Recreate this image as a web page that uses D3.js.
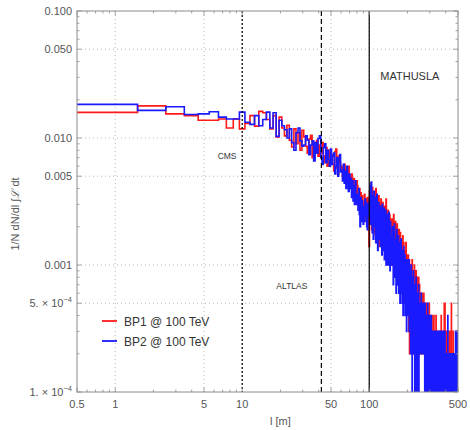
<!DOCTYPE html>
<html>
<head>
<meta charset="utf-8">
<script src="https://cdn.jsdelivr.net/npm/d3@7"></script>
<style>
body { margin: 0; background: #fff; }
text { font-family: "Liberation Sans", Arial, sans-serif; }
</style>
</head>
<body>
<div id="chart"></div>
<script>
// histogram bins: centre l = 1..500 m, width 1 m
// bin contents in units of 1e-4 (1/N dN/dl)
var binStart = 1;
var binWidth = 1;

var bp1Per1e4 = [
  159,179,155,150,138,138,141,120,141,118,
  130,150,124,162,158,140,118,150,102,146,
  120,104,126,96,85,118,90,110,80,115,
  102,86,76,98,105,70,92,82,96,72,
  88,76,92,64,72,84,60,80,70,66,
  74,62,55,78,82,58,52,72,64,56,
  60,50,54,62,46,58,44,56,60,42,
  50,40,52,38,36,48,36,45,34,46,
  42,32,30,40,26,37,24,35,30,25,
  31,36,24,33,22,30,34,21,28,14,
  38,22,44,27,19,41,25,34,18,30, 36,17,40,23,31,15,28,20,35,14,
  30,19,16,33,21,27,13,31,18,26, 15,29,12,25,17,33,14,24,11,21,
  27,13,22,10,25,16,12,23,10,19,
  17,23,10,20,12,25,9,19,11,15, 22,8,14,18,10,21,7,13,17,9,
  15,19,6,12,9,18,13,7,11,16, 6,14,8,17,6,11,15,5,10,13,
  8,5,12,7,15,9,5,10,12,6,
  10,5,12,6,3,8,11,2,7,5, 10,4,2,9,5,7,3,11,4,6,
  8,2,7,4,6,3,10,4,1,6, 7,3,5,9,2,6,3,5,8,2,
  5,6,1,4,8,2,5,3,7,2,
  4,5,3,6,4,2,5,3,4,6, 3,5,2,4,3,5,4,2,6,3,
  4,3,5,2,4,1,3,5,2,4, 3,2,4,0,3,5,2,3,1,4,
  2,3,0,4,2,3,5,1,3,2,
  2,3,1,4,2,0,3,2,1,3, 2,4,1,2,0,3,2,1,3,2,
  0,2,4,1,2,3,0,2,1,3, 2,1,0,3,2,4,1,2,0,2,
  3,1,2,0,2,3,1,2,1,0, 2,3,1,2,0,1,3,2,1,2,
  0,2,1,3,2,0,1,2,4,1, 2,0,1,3,2,1,0,2,1,3,
  1,2,0,2,1,3,2,0,1,5, 2,1,0,2,5,1,2,0,1,2,
  1,2,0,1,3,1,0,2,1,0, 2,1,1,0,3,1,2,0,1,2,
  0,1,2,1,0,2,1,0,1,3, 1,0,2,1,0,1,2,0,1,1,
  0,2,1,5,1,0,2,1,0,1, 2,0,1,1,0,2,1,0,3,1,
  0,1,2,0,1,1,0,2,1,0, 1,2,0,1,0,2,1,1,0,2,
  1,0,1,2,0,1,3,1,0,1, 2,0,1,1,0,2,1,0,1,2
];

var bp2Per1e4 = [
  184,165,176,153,155,161,146,141,141,160,
  133,128,150,125,140,160,120,158,103,138,
  125,116,100,118,92,80,110,120,95,86,
  88,104,96,74,88,95,66,92,76,99,
  104,70,62,84,90,64,80,68,60,82,
  62,72,76,52,60,70,50,68,74,54,
  56,46,62,44,55,40,60,50,38,52,
  40,48,34,46,32,42,30,46,34,30,
  36,27,40,25,20,34,22,32,28,21,
  29,22,33,25,31,20,19,30,24,31,
  33,42,21,45,26,18,35,16,38,24, 20,34,15,30,36,19,13,28,31,16,
  25,29,14,27,18,12,30,15,26,13, 28,11,23,15,27,10,22,14,25,12,
  10,21,26,11,18,9,22,13,10,17,
  16,10,20,13,7,17,11,21,8,14, 10,16,6,12,19,8,14,7,11,17,
  6,13,9,15,5,12,8,16,6,10, 13,5,9,12,4,10,14,7,9,5,
  12,4,8,11,6,9,3,8,11,5,
  7,10,4,8,5,11,3,7,4,9, 6,2,7,10,3,6,4,0,8,3,
  6,4,9,2,5,7,3,6,1,5, 4,7,2,8,5,0,4,6,2,5,
  4,0,6,2,7,1,4,5,2,4,
  5,3,4,2,5,3,6,4,2,3, 4,5,3,2,4,3,2,5,3,4,
  2,4,3,1,5,3,0,4,2,3, 4,1,3,2,0,4,3,2,5,1,
  3,2,4,0,3,2,1,4,2,3,
  3,2,0,2,3,1,2,4,1,2, 3,0,2,1,3,2,1,0,2,3,
  1,2,3,0,2,1,2,3,1,0, 2,3,1,2,1,0,3,2,1,2,
  0,2,1,3,2,1,0,2,3,1, 2,1,0,2,1,3,2,1,0,2,
  1,2,3,1,0,2,1,2,0,1, 3,2,1,0,2,1,2,0,3,1,
  2,1,0,2,1,2,3,0,1,2, 1,0,2,1,3,1,0,2,1,2,
  2,1,0,2,1,1,0,2,1,0, 1,2,0,1,2,4,1,0,1,2,
  0,1,1,2,0,1,2,1,0,1, 2,0,1,1,2,0,1,2,0,1,
  1,0,2,1,0,1,2,1,0,2, 1,1,0,2,1,0,1,2,0,1,
  1,2,0,1,1,0,2,1,1,0, 2,1,0,1,2,1,0,1,3,1,
  0,1,2,1,0,1,1,2,0,3, 1,0,2,1,3,0,1,2,3,3
];

var seriesNames = ["BP1 @ 100 TeV", "BP2 @ 100 TeV"];
var seriesColors = ["#ff1a1a", "#1a1aff"];

var xTicks = [0.5, 1, 5, 10, 50, 100, 500];
var xTickLabels = ["0.5", "1", "5", "10", "50", "100", "500"];
var yTicks = [1e-4, 5e-4, 0.001, 0.005, 0.01, 0.05, 0.1];
var yTickLabels = ["1. \u00d7 10|-4", "5. \u00d7 10|-4", "0.001", "0.005", "0.010", "0.050", "0.100"];

var detectorNames = ["CMS", "ALTLAS", "MATHUSLA"];
var detectorL = [10, 42, 100];

var W = 470, H = 430;
var margin = {left: 77, right: 12, top: 11, bottom: 38};
var pw = W - margin.left - margin.right;
var ph = H - margin.top - margin.bottom;

var axisColor = "#8a8a8a";
var labelColor = "#555";
var gridColor = "#b8b8b8";

var svg = d3.select("#chart").append("svg")
  .attr("width", W)
  .attr("height", H);

var x = d3.scaleLog().domain([0.5, 500]).range([0, pw]);
var y = d3.scaleLog().domain([1e-4, 0.1]).range([ph, 0]);

var g = svg.append("g")
  .attr("transform", "translate(" + margin.left + "," + margin.top + ")");

svg.append("defs").append("clipPath").attr("id", "plotclip")
  .append("rect").attr("x", 0).attr("y", 0).attr("width", pw).attr("height", ph);

// grid lines at the major ticks
g.append("g").selectAll("line")
  .data(xTicks.slice(1, -1))
  .enter().append("line")
  .attr("x1", function(d){ return x(d); })
  .attr("x2", function(d){ return x(d); })
  .attr("y1", 0).attr("y2", ph)
  .attr("stroke", gridColor)
  .attr("stroke-dasharray", "1,3");

g.append("g").selectAll("line")
  .data(yTicks.slice(1, -1))
  .enter().append("line")
  .attr("x1", 0).attr("x2", pw)
  .attr("y1", function(d){ return y(d); })
  .attr("y2", function(d){ return y(d); })
  .attr("stroke", gridColor)
  .attr("stroke-dasharray", "1,3");

// minor ticks: 2..9 times each decade
function minorTicks(lo, hi, major){
  var out = [];
  for (var e = -5; e <= 3; e++) {
    for (var m = 1; m < 10; m++) {
      var v = m * Math.pow(10, e);
      if (v > lo * 1.0001 && v < hi * 0.9999 &&
          !major.some(function(t){ return Math.abs(t - v) / t < 1e-6; })) out.push(v);
    }
  }
  return out;
}
var xMinor = minorTicks(0.5, 500, xTicks);
var yMinor = minorTicks(1e-4, 0.1, yTicks);

// histogram steps
function stepPoints(vals){
  var pts = [];
  for (var i = 0; i < vals.length; i++) {
    var c = binStart + i * binWidth;
    var lo = Math.max(c - binWidth / 2, 0.5);
    var hi = Math.min(c + binWidth / 2, 500);
    var v = vals[i] > 0 ? vals[i] * 1e-4 : 1e-6;
    pts.push([lo, v]);
    pts.push([hi, v]);
  }
  return pts;
}

var line = d3.line()
  .x(function(d){ return x(d[0]); })
  .y(function(d){ return y(d[1]); });

var plot = g.append("g").attr("clip-path", "url(#plotclip)");

[bp1Per1e4, bp2Per1e4].forEach(function(vals, k){
  plot.append("path")
    .attr("d", line(stepPoints(vals)))
    .attr("fill", "none")
    .attr("stroke", seriesColors[k])
    .attr("stroke-width", 1.6)
    .attr("stroke-linejoin", "miter");
});

// detector distances
var detDash = ["2,2", "5,3", null];
detectorL.forEach(function(l, k){
  g.append("line")
    .attr("x1", x(l)).attr("x2", x(l))
    .attr("y1", 0).attr("y2", ph)
    .attr("stroke", "#000")
    .attr("stroke-width", 1.2)
    .attr("stroke-dasharray", detDash[k]);
});

var detLabelAt = [[7.6, 0.0071], [24.6, 6.7e-4], [209, 0.03]];
detectorNames.forEach(function(name, k){
  g.append("text")
    .attr("x", x(detLabelAt[k][0]))
    .attr("y", y(detLabelAt[k][1]))
    .attr("text-anchor", "middle")
    .attr("dominant-baseline", "middle")
    .attr("font-size", k == 2 ? "11px" : "8.5px")
    .attr("fill", "#333")
    .text(name);
});

// frame
g.append("rect")
  .attr("x", 0).attr("y", 0)
  .attr("width", pw).attr("height", ph)
  .attr("fill", "none")
  .attr("stroke", axisColor)
  .attr("stroke-width", 1);

function drawTicks(vals, len, side){
  var sel = g.append("g").selectAll("line").data(vals).enter().append("line")
    .attr("stroke", axisColor).attr("stroke-width", 0.8);
  if (side == "bottom" || side == "top") {
    var y0 = side == "bottom" ? ph : 0;
    var dir = side == "bottom" ? -1 : 1;
    sel.attr("x1", function(d){ return x(d); })
       .attr("x2", function(d){ return x(d); })
       .attr("y1", y0).attr("y2", y0 + dir * len);
  } else {
    var x0 = side == "left" ? 0 : pw;
    var dir2 = side == "left" ? 1 : -1;
    sel.attr("y1", function(d){ return y(d); })
       .attr("y2", function(d){ return y(d); })
       .attr("x1", x0).attr("x2", x0 + dir2 * len);
  }
}
["bottom", "top"].forEach(function(s){
  drawTicks(xTicks, 4.5, s);
  drawTicks(xMinor, 2.5, s);
});
["left", "right"].forEach(function(s){
  drawTicks(yTicks, 4.5, s);
  drawTicks(yMinor, 2.5, s);
});

// tick labels
g.append("g").selectAll("text")
  .data(xTicks)
  .enter().append("text")
  .attr("x", function(d){ return x(d); })
  .attr("y", ph + 16)
  .attr("text-anchor", "middle")
  .attr("font-size", "11px")
  .attr("fill", labelColor)
  .text(function(d, i){ return xTickLabels[i]; });

yTicks.forEach(function(d, i){
  var t = g.append("text")
    .attr("x", -5)
    .attr("y", y(d) + 4)
    .attr("text-anchor", "end")
    .attr("font-size", "11px")
    .attr("fill", labelColor);
  var parts = yTickLabels[i].split("|");
  t.append("tspan").text(parts[0]);
  if (parts.length > 1) {
    t.append("tspan")
      .attr("dy", -5)
      .attr("font-size", "7.5px")
      .text(parts[1].replace("-", "\u2212"));
  }
});

// axis titles
svg.append("text")
  .attr("x", margin.left + x(20))
  .attr("y", 425)
  .attr("text-anchor", "middle")
  .attr("font-size", "11px")
  .attr("fill", labelColor)
  .text("l [m]");

var ytitle = svg.append("text")
  .attr("transform", "translate(19,214) rotate(-90)")
  .attr("text-anchor", "middle")
  .attr("font-size", "11px")
  .attr("fill", labelColor);
ytitle.append("tspan").text("1/N dN/dl \u222b");
ytitle.append("tspan").style("font-family", "'DejaVu Serif', serif").style("font-style", "italic").text("\u2112");
ytitle.append("tspan").text(" dt");

// legend
var legend = g.append("g").attr("transform", "translate(25,310)");
seriesNames.forEach(function(name, k){
  legend.append("line")
    .attr("x1", 0).attr("x2", 15)
    .attr("y1", k * 20).attr("y2", k * 20)
    .attr("stroke", seriesColors[k])
    .attr("stroke-width", 1.8);
  legend.append("text")
    .attr("x", 22)
    .attr("y", k * 20 + 4.5)
    .attr("font-size", "12px")
    .attr("fill", "#333")
    .text(name);
});
</script>
</body>
</html>
